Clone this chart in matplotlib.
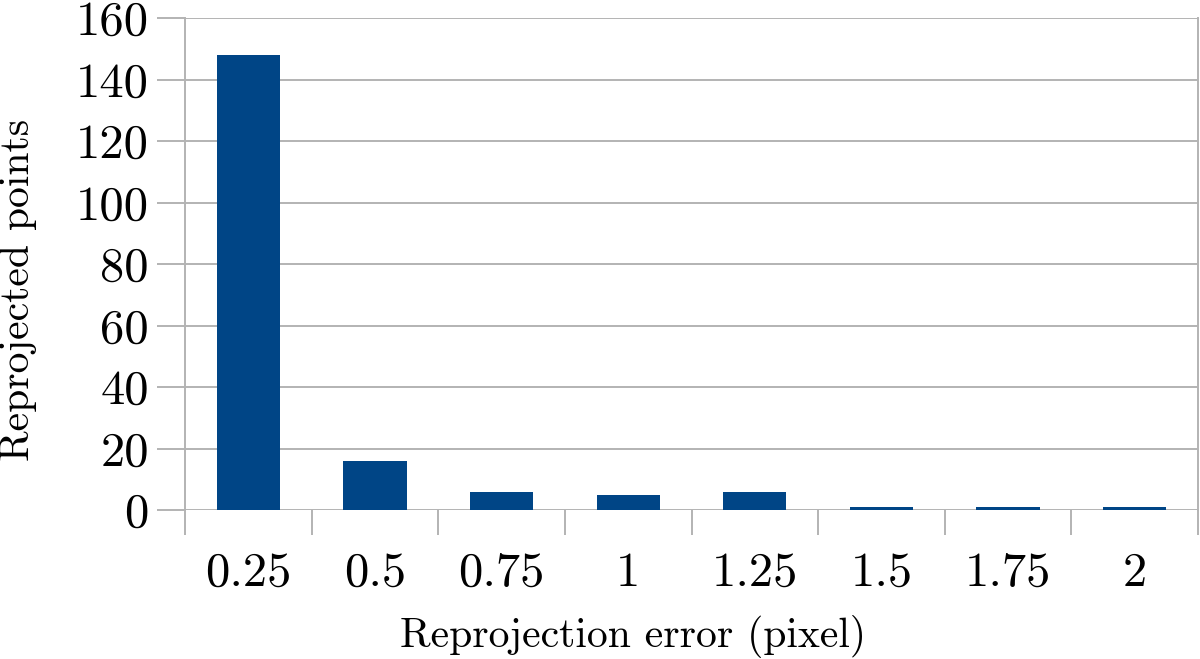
import matplotlib
matplotlib.use("Agg")
import matplotlib.pyplot as plt
import numpy as np

# ----------------------------
# Data
# ----------------------------
error_bins = ["0.25", "0.5", "0.75", "1", "1.25", "1.5", "1.75", "2"]
point_counts = [148, 16, 6, 5, 6, 1, 1, 1]
y_ticks = [0, 20, 40, 60, 80, 100, 120, 140, 160]

bar_color = "#004586"
grid_color = "#b3b3b3"

plt.rcParams["font.family"] = ["cmr10", "DejaVu Serif"]
plt.rcParams["axes.formatter.use_mathtext"] = True

W, H = 1200, 659
fig = plt.figure(figsize=(12, 6.59), dpi=100)
ax = fig.add_axes([185 / W, 1 - 510 / H, (1198 - 185) / W, (510 - 18) / H])

x = np.arange(len(error_bins))
ax.bar(x, point_counts, width=0.5, color=bar_color, zorder=3)

ax.set_xlim(-0.5, len(error_bins) - 0.5)
ax.set_ylim(0, 160)
ax.set_yticks(y_ticks)
ax.set_yticklabels([str(t) for t in y_ticks])

# category labels centered, boundary ticks between categories
ax.set_xticks(x)
ax.set_xticklabels(error_bins)
ax.set_xticks(np.arange(-0.5, len(error_bins), 1.0), minor=True)
ax.tick_params(axis="x", which="major", length=0, pad=30, labelsize=35)
ax.tick_params(axis="x", which="minor", length=18, width=1.4, color=grid_color)
ax.tick_params(axis="y", length=20, width=1.4, color=grid_color, pad=6, labelsize=35)

ax.yaxis.grid(True, color=grid_color, linewidth=1.4, zorder=0)
ax.set_axisbelow(True)

for side in ["left", "right", "top", "bottom"]:
    ax.spines[side].set_color(grid_color)
    ax.spines[side].set_linewidth(1.4)
ax.spines["top"].set_visible(False)
ax.spines["bottom"].set_visible(False)

# axis titles placed like the original (not centred on the plot area)
fig.text(633 / W, 1 - 636 / H, "Reprojection error (pixel)", fontsize=30,
         ha="center", va="center")
fig.text(18 / W, 1 - 290 / H, "Reprojected points", fontsize=30,
         rotation=90, ha="center", va="center")

fig.savefig("out.png", dpi=100)
